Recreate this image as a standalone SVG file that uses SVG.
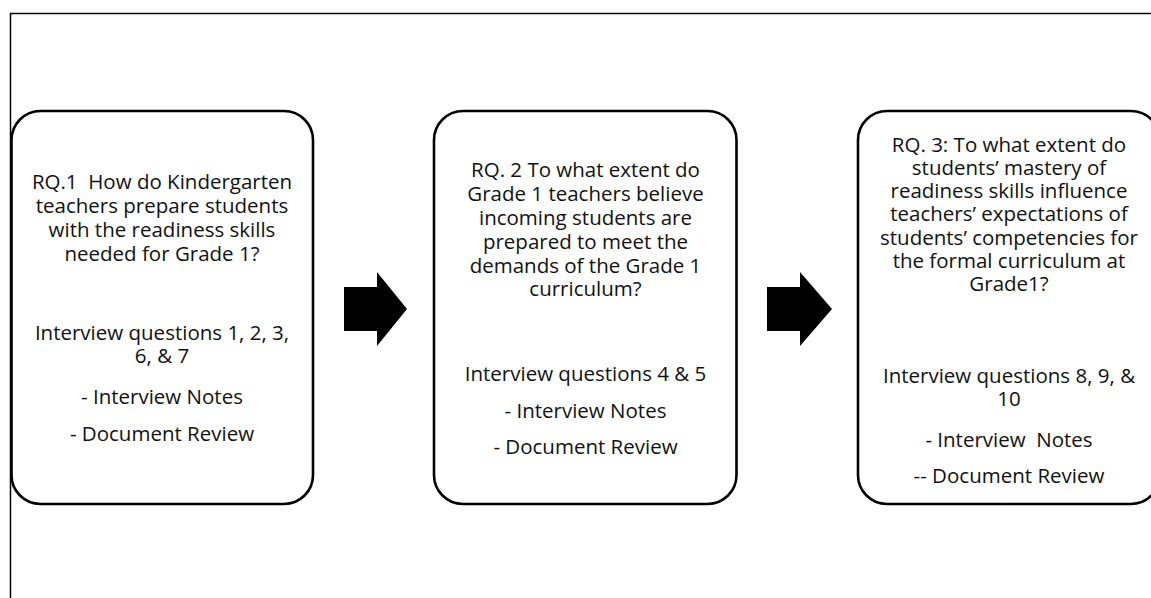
<svg xmlns="http://www.w3.org/2000/svg" width="1151" height="598" viewBox="0 0 1151 598">
<style>
.frame{stroke:#000;stroke-width:1.5;fill:none}
.box{fill:#fff;stroke:#000;stroke-width:2.6}
.t{font-family:"Open Sans","Noto Sans","Liberation Sans",sans-serif;font-size:20.5px;fill:#111;text-anchor:middle}
.arrow{fill:#000;stroke:none}
</style>
<rect width="1151" height="598" fill="#fff"/>
<g id="frame">
<line class="frame" x1="10" y1="13.5" x2="1151" y2="13.5"/>
<line class="frame" x1="10.5" y1="13" x2="10.5" y2="598"/>
</g>
<g id="connectors">
<polygon class="arrow" points="344,287 377,287 377,272 407,309 377,346 377,331 344,331"/>
<polygon class="arrow" points="767,287 800,287 800,272 832,309 800,346 800,331 767,331"/>
</g>
<g id="rq1">
<rect class="box" x="11.5" y="111" width="301.5" height="393" rx="29"/>
<text class="t" xml:space="preserve"><tspan x="162" y="189">RQ.1  How do Kindergarten</tspan><tspan x="162" y="213">teachers prepare students</tspan><tspan x="162" y="237">with the readiness skills</tspan><tspan x="162" y="261">needed for Grade 1?</tspan><tspan x="162" y="340">Interview questions 1, 2, 3,</tspan><tspan x="162" y="363">6, &amp; 7</tspan><tspan x="162" y="404">- Interview Notes</tspan><tspan x="162" y="441">- Document Review</tspan></text>
</g>
<g id="rq2">
<rect class="box" x="434" y="111" width="302.5" height="393" rx="29"/>
<text class="t"><tspan x="585.5" y="177">RQ. 2 To what extent do</tspan><tspan x="585.5" y="201">Grade 1 teachers believe</tspan><tspan x="585.5" y="225">incoming students are</tspan><tspan x="585.5" y="249">prepared to meet the</tspan><tspan x="585.5" y="273">demands of the Grade 1</tspan><tspan x="585.5" y="296">curriculum?</tspan><tspan x="585.5" y="381">Interview questions 4 &amp; 5</tspan><tspan x="585.5" y="418">- Interview Notes</tspan><tspan x="585.5" y="454">- Document Review</tspan></text>
</g>
<g id="rq3">
<rect class="box" x="858" y="111" width="302" height="393" rx="29"/>
<text class="t" xml:space="preserve"><tspan x="1009" y="152">RQ. 3: To what extent do</tspan><tspan x="1009" y="175">students’ mastery of</tspan><tspan x="1009" y="198">readiness skills influence</tspan><tspan x="1009" y="221">teachers’ expectations of</tspan><tspan x="1009" y="245">students’ competencies for</tspan><tspan x="1009" y="268">the formal curriculum at</tspan><tspan x="1009" y="291">Grade1?</tspan><tspan x="1009" y="383">Interview questions 8, 9, &amp;</tspan><tspan x="1009" y="406">10</tspan><tspan x="1009" y="447">- Interview  Notes</tspan><tspan x="1009" y="483">-- Document Review</tspan></text>
</g>
</svg>
